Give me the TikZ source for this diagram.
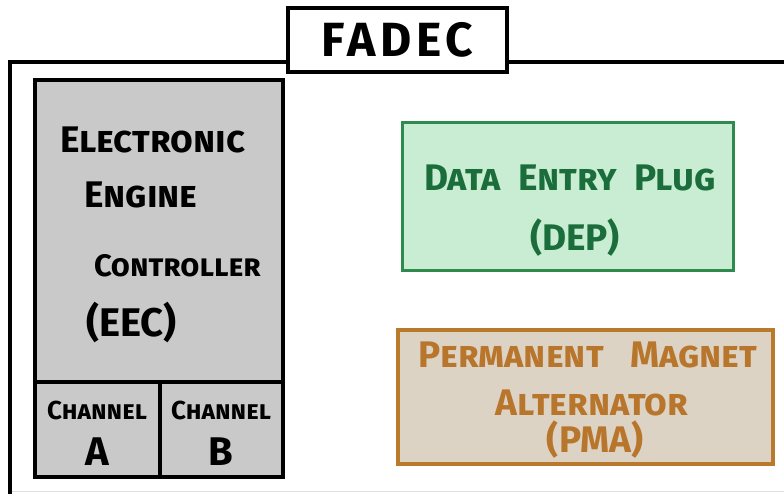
\documentclass[tikz,border=0pt]{standalone}
\usepackage{fontspec}
\setmainfont{Fira Sans}
\newfontfamily\hand[Letters=SmallCaps]{Fira Sans}
\newfontfamily\wide[LetterSpace=10]{Fira Sans}
\definecolor{eecfill}{HTML}{C9C9C9}
\definecolor{depfill}{HTML}{C8EDD2}
\definecolor{depline}{HTML}{2F8A4E}
\definecolor{deptext}{HTML}{1B6E3C}
\definecolor{pmafill}{HTML}{DDD3C4}
\definecolor{pmaline}{HTML}{B97A2C}
\definecolor{pmatext}{HTML}{B8762C}
\begin{document}
\begin{tikzpicture}[x=1pt,y=-1pt,
  txt/.style={inner sep=0pt,font=\hand\bfseries\fontsize{37}{38}\selectfont},
  ptxt/.style={inner sep=0pt,text=pmatext,font=\hand\bfseries\fontsize{37}{38}\selectfont},
  chtxt/.style={inner sep=0pt,font=\hand\bfseries\fontsize{26}{28}\selectfont},
  lettxt/.style={inner sep=0pt,font=\bfseries\fontsize{40}{40}\selectfont},
  eecbox/.style={draw=black,line width=4.5pt,fill=eecfill},
  depbox/.style={draw=depline,line width=3pt,fill=depfill},
  pmabox/.style={draw=pmaline,line width=3.5pt,fill=pmafill},
  frame/.style={draw=black,line width=3.5pt}]
\useasboundingbox (0,0) rectangle (784,493);
\fill[white] (0,0) rectangle (784,493);
% outer frame
\node[draw=black,line width=4.5pt,fill=white,minimum width=219pt,minimum height=64pt,inner sep=0pt,
  font=\wide\bfseries\fontsize{48}{48}\selectfont] (fadec) at (397.5,40) {FADEC};
\coordinate (fl) at (10,62);
\coordinate (fr) at (790,62);
\coordinate (fb) at (10,500);
\draw[frame] (fadec.west |- fl) -- (fl) -- (fb);
\draw[frame] (fadec.east |- fr) -- (fr);
\draw[gray!25,line width=1pt] (12,491) -- (784,491);
% EEC
\node[eecbox,minimum width=248pt,minimum height=397pt,inner sep=0pt] (eec) at (159,278.5) {};
\coordinate (dl) at (35,382);
\coordinate (dr) at (283,382);
\coordinate (vt) at (160,382);
\coordinate (vb) at (160,477);
\draw[line width=3.5pt] (dl) -- (dr);
\draw[line width=3.5pt] (vt) -- (vb);
\node[txt,anchor=west] (e1) at (60,140) {Electronic};
\node[txt,anchor=west] (e2) at (84,195) {Engine};
\node[txt,anchor=west,font=\hand\bfseries\fontsize{31}{32}\selectfont] (e3) at (94,266) {Controller};
\node[txt,anchor=west,font=\hand\bfseries\fontsize{40}{40}\selectfont] (e4) at (86,322) {(EEC)};
\node[chtxt] (ca) at (97,410) {Channel};
\node[lettxt] (caa) at (97,452) {A};
\node[chtxt] (cb) at (221,410) {Channel};
\node[lettxt] (cbb) at (221,452) {B};
% DEP
\node[depbox,minimum width=331pt,minimum height=148pt,inner sep=0pt] (dep) at (567.5,196) {};
\node[txt,text=deptext] (d1) at (570,178) {Data\ \ Entry\ \ Plug};
\node[txt,text=deptext] (d2) at (575,238) {(DEP)};
% PMA
\node[pmabox,minimum width=375pt,minimum height=134pt,inner sep=0pt] (pma) at (585.5,397) {};
\node[ptxt] (p1) at (588,355) {Permanent\ \ \ Magnet};
\node[ptxt] (p2) at (592,403) {Alternator};
\node[ptxt] (p3) at (595,440) {(PMA)};
\end{tikzpicture}
\end{document}
